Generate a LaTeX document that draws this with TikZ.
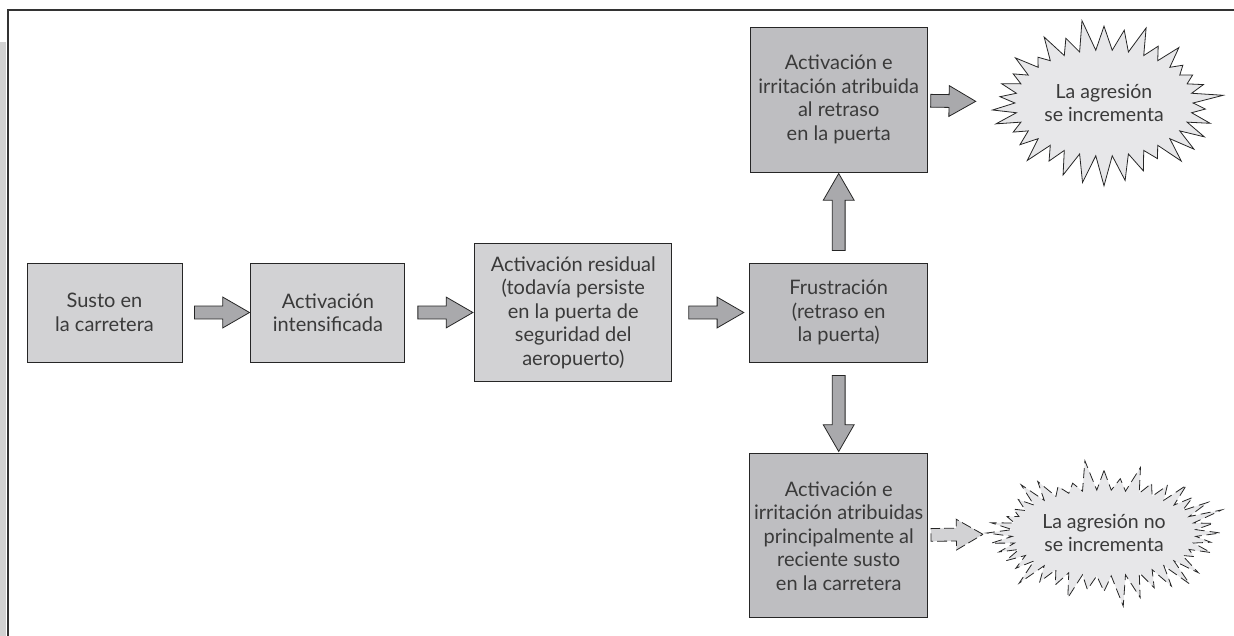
\documentclass[tikz,border=0pt]{standalone}
\usepackage{fontspec}
\setmainfont{Lato}
\usetikzlibrary{shapes.arrows,shapes.symbols,positioning}

\definecolor{boxlight}{HTML}{D2D2D4}
\definecolor{boxdark}{HTML}{BEBEC1}
\definecolor{arrgray}{HTML}{A9A9AC}
\definecolor{burstgray}{HTML}{E7E7E9}
\definecolor{txtgray}{HTML}{3A3A3A}

\begin{document}
\begin{tikzpicture}[
    x=1pt, y=-1pt,
    box/.style={
        rectangle, draw=black!85, line width=0.9pt, fill=boxlight,
        align=center, text=txtgray, inner sep=2pt,
        font=\fontsize{20}{23.5}\selectfont
    },
    darkbox/.style={box, fill=boxdark},
    fat/.style={
        single arrow, draw=black!85, line width=0.8pt, fill=arrgray,
        inner xsep=0pt, inner ysep=6pt, single arrow head extend=9pt,
        single arrow tip angle=60, sloped, anchor=center
    },
    burst/.style={
        starburst, draw=black!85, line width=0.8pt, fill=burstgray,
        starburst point height=32pt, align=center, text=txtgray,
        font=\fontsize{19.5}{23}\selectfont
    },
    frame/.style={line width=2pt, black!80}
]
\useasboundingbox (0,0) rectangle (1234,636);
% Frame and side strip
\fill[black!18] (0,42) rectangle (6,636);
\draw[frame] (7.5,636) -- (7.5,10) -- (1234,10);
% Main row
\node[box, minimum width=155pt, minimum height=99pt] (susto) at (104.5,312.5)
  {Susto en\\la carretera};
\node[box, minimum width=154pt, minimum height=99pt, right=68pt of susto] (intens)
  {Activación\\intensificada};
\node[box, minimum width=197pt, minimum height=138pt, right=69pt of intens] (resid)
  {Activación residual\\(todavía persiste\\en la puerta de\\seguridad del\\aeropuerto)};
\node[darkbox, minimum width=178pt, minimum height=99pt, right=77pt of resid] (frust)
  {Frustración\\(retraso en\\la puerta)};
% Branches
\node[darkbox, minimum width=177pt, minimum height=145pt, above=90pt of frust] (retraso)
  {Activación e\\irritación atribuida\\al retraso\\en la puerta};
\node[darkbox, minimum width=178pt, minimum height=164pt, below=91pt of frust] (susto2)
  {Activación e\\irritación atribuidas\\principalmente al\\reciente susto\\en la carretera};
% Outcomes
\node[burst, minimum width=234pt, minimum height=170pt, starburst points=34,
  random starburst=11] (mas) at (1104,103) {La agresión\\se incrementa};
\node[burst, minimum width=226pt, minimum height=150pt, starburst points=40,
  random starburst=5, dash pattern=on 10pt off 5pt] (igual) at (1104,533)
  {La agresión no\\se incrementa};
% Block arrows
\path (susto) -- node[fat, minimum height=55pt] {} (intens);
\path (intens) -- node[fat, minimum height=55pt] {} (resid);
\path (resid) -- node[fat, minimum height=55pt] {} (frust);
\path (frust) -- node[fat, minimum height=77pt] {} (retraso);
\path (frust) -- node[fat, minimum height=76pt] {} (susto2);
\path (retraso) -- node[fat, pos=0.24, minimum height=45pt] {} (mas);
\path (susto2) -- node[fat, pos=0.36, minimum height=52pt, fill=boxlight,
  dash pattern=on 10pt off 4pt] {} (igual);
\end{tikzpicture}
\end{document}
